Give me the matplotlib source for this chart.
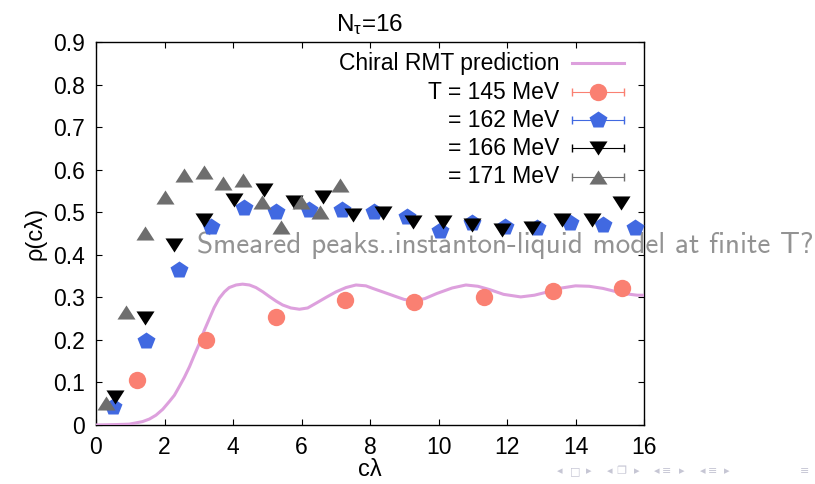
import matplotlib
matplotlib.use('Agg')
import matplotlib.pyplot as plt
from matplotlib.path import Path

plt.rcParams['font.family'] = ['Liberation Sans', 'DejaVu Sans']
plt.rcParams['mathtext.fontset'] = 'custom'
plt.rcParams['mathtext.rm'] = 'Liberation Sans'
plt.rcParams['mathtext.it'] = 'Liberation Sans'

# chiral RMT prediction
rmt_x = [0.0, 0.58, 0.97, 1.17, 1.36, 1.56, 1.75, 1.95, 2.14, 2.29, 2.43, 2.58,
         2.73, 2.87, 3.02, 3.16, 3.31, 3.45, 3.60, 3.75, 3.89, 4.09, 4.28,
         4.48, 4.67, 4.87, 5.06, 5.26, 5.45, 5.69, 5.94, 6.18, 6.42, 6.72,
         7.01, 7.30, 7.59, 7.88, 8.08, 8.40, 8.75, 9.00, 9.30, 9.60, 9.95,
         10.40, 10.80, 11.15, 11.50, 11.90, 12.40, 12.80, 13.20, 13.60, 14.00,
         14.40, 14.80, 15.20, 15.50, 15.80, 16.00]
rmt_y = [0.0, 0.001, 0.002, 0.005, 0.008, 0.014, 0.023, 0.037, 0.055, 0.070,
         0.090, 0.112, 0.137, 0.164, 0.192, 0.222, 0.250, 0.276, 0.298, 0.313,
         0.323, 0.329, 0.331, 0.329, 0.323, 0.313, 0.302, 0.291, 0.282, 0.275,
         0.272, 0.275, 0.286, 0.300, 0.313, 0.323, 0.329, 0.327, 0.321, 0.312,
         0.302, 0.295, 0.292, 0.297, 0.309, 0.322, 0.329, 0.326, 0.318, 0.307,
         0.301, 0.305, 0.313, 0.322, 0.327, 0.326, 0.321, 0.313, 0.308, 0.305,
         0.305]

# lattice data
cl_145 = [1.20, 3.22, 5.25, 7.27, 9.29, 11.32, 13.34, 15.36]
rho_145 = [0.106, 0.200, 0.253, 0.294, 0.290, 0.301, 0.314, 0.323]

cl_162 = [0.50, 1.45, 2.41, 3.36, 4.31, 5.27, 6.22, 7.17, 8.12, 9.08, 10.03,
          10.98, 11.94, 12.89, 13.84, 14.80, 15.75]
rho_162 = [0.042, 0.197, 0.364, 0.465, 0.510, 0.500, 0.505, 0.505, 0.500,
           0.489, 0.456, 0.475, 0.465, 0.463, 0.475, 0.470, 0.463]

cl_166 = [0.55, 1.42, 2.29, 3.16, 4.03, 4.90, 5.77, 6.64, 7.51, 8.38, 9.25,
          10.12, 10.99, 11.86, 12.73, 13.60, 14.47, 15.34]
rho_166 = [0.066, 0.251, 0.423, 0.482, 0.529, 0.552, 0.524, 0.536, 0.493,
           0.498, 0.477, 0.477, 0.470, 0.458, 0.463, 0.482, 0.482, 0.522]

cl_171 = [0.30, 0.87, 1.44, 2.00, 2.57, 3.14, 3.71, 4.28, 4.84, 5.41, 5.98,
          6.55, 7.12]
rho_171 = [0.052, 0.265, 0.450, 0.536, 0.587, 0.594, 0.568, 0.576, 0.524,
           0.465, 0.524, 0.500, 0.564]

labels = ['T = 145 MeV', '= 162 MeV', '= 166 MeV', '= 171 MeV']

# gnuplot style flat triangles
tri_up = Path([(-1, -0.78), (1, -0.78), (0, 0.78), (-1, -0.78)])
tri_down = Path([(-1, 0.78), (1, 0.78), (0, -0.78), (-1, 0.78)])

styles = [
    dict(color='#fa8072', marker='o', ms=12.5),
    dict(color='#4169e1', marker='p', ms=13),
    dict(color='black', marker=tri_down, ms=13),
    dict(color='#6e6e6e', marker=tri_up, ms=13),
]
series = [(cl_145, rho_145), (cl_162, rho_162), (cl_166, rho_166), (cl_171, rho_171)]

fig = plt.figure(figsize=(8.15, 4.84), dpi=100)
ax = fig.add_axes([96 / 815, 59 / 484, 548 / 815, 383 / 484])

ax.plot(rmt_x, rmt_y, color='#dda0dd', lw=2.2, zorder=3)
for (xs, ys), st in zip(series, styles):
    ax.plot(xs, ys, ls='none', marker=st['marker'], ms=st['ms'],
            color=st['color'], mec='none', zorder=4)

ax.set_xlim(0, 16)
ax.set_ylim(0, 0.9)
ax.set_xticks(range(0, 17, 2))
ax.set_yticks([i / 10 for i in range(10)])
ax.set_yticklabels(['0'] + ['%.1f' % (i / 10) for i in range(1, 10)])
ax.tick_params(direction='in', length=4.5, width=0.8, top=True, right=True,
               labelsize=16.5, pad=8)
for s in ax.spines.values():
    s.set_linewidth(1.0)

ax.set_title('N$_{\\mathrm{τ}}$=16', fontsize=17.5, pad=8)
ax.set_xlabel('cλ', fontsize=17, labelpad=0)
ax.set_ylabel('ρ(cλ)', fontsize=17, labelpad=5)

# key, drawn gnuplot style: text right aligned, sample with caps
row_y = [0.945, 0.869, 0.796, 0.723, 0.648]
tx, x0, x1, xm = 0.845, 0.869, 0.964, 0.916
ax.text(tx, row_y[0], 'Chiral RMT prediction', transform=ax.transAxes,
        ha='right', va='center', fontsize=16.5)
ax.plot([x0, x1], [row_y[0]] * 2, color='#dda0dd', lw=2.2,
        transform=ax.transAxes, clip_on=False)
for lab, st, y in zip(labels, styles, row_y[1:]):
    ax.text(tx, y, lab, transform=ax.transAxes, ha='right', va='center',
            fontsize=16.5)
    ax.plot([x0, x1], [y, y], color=st['color'], lw=0.8, marker='|', ms=6,
            transform=ax.transAxes, clip_on=False)
    ax.plot([xm], [y], marker=st['marker'], ms=st['ms'], color=st['color'],
            mec='none', transform=ax.transAxes, clip_on=False)

ax.text(0.184, 0.47, 'Smeared peaks..instanton-liquid model at finite T?',
        transform=ax.transAxes, fontfamily='cmss10', fontsize=21,
        color='#939393', va='center', ha='left', clip_on=False, zorder=2)

# beamer navigation symbols
nav = [(560, '◂'), (575, '□'), (589, '▸'), (610, '◂'), (621, '❐'), (637, '▸'),
       (657, '◂'), (667, '≡'), (682, '▸'), (703, '◂'), (713, '≡'), (727, '▸'),
       (805, '≡')]
for px, ch in nav:
    fig.text(px / 815, 1 - 471 / 484, ch, fontsize=8, color='#c6c6d4',
             ha='center', va='center', fontfamily='DejaVu Sans')

fig.savefig('out.png', dpi=100)
